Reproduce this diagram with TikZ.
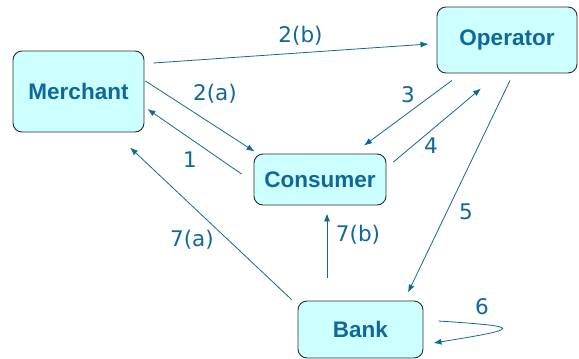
\documentclass[tikz,border=0pt]{standalone}
\usepackage{fontspec}
\newfontfamily\boxfont{Liberation Sans}
\newfontfamily\lblfont{DejaVu Sans}
\usepackage{tikz}
\usetikzlibrary{calc}
\usetikzlibrary{arrows.meta}

\definecolor{flowblue}{RGB}{16,104,152}
\definecolor{boxfill}{RGB}{204,255,255}
\definecolor{boxline}{RGB}{45,45,45}

\tikzset{
    party/.style={draw=boxline, fill=boxfill, line width=0.9pt, rounded corners=9pt,
        inner sep=0pt, text=flowblue, font=\boxfont\bfseries\fontsize{22.5}{26}\selectfont},
    flow/.style={draw=flowblue, line width=0.8pt, -{Latex[length=8pt,width=6pt]}},
    lbl/.style={text=flowblue, inner sep=0pt, font=\lblfont\fontsize{21.5}{25}\selectfont}
}

\begin{document}
\begin{tikzpicture}[x=1pt, y=-1pt]
        \useasboundingbox (0,0) rectangle (579,359);

        \node[party, minimum width=131pt, minimum height=81pt] (merchant) at (78.5,91.5) {Merchant};
        \node[party, minimum width=140pt, minimum height=66pt] (operator) at (507,40) {Operator};
        \node[party, minimum width=132pt, minimum height=51pt] (consumer) at (320,179.5) {Consumer};
        \node[party, minimum width=125pt, minimum height=57pt] (bank) at (360.5,329.5) {Bank};

        % flows
        \draw[flow] ($(merchant.east)+(9,-28.5)$) -- ($(operator.west)+(-8,4)$);
        \draw[flow] ($(merchant.east)+(1,-10.5)$) -- ($(consumer.north west)+(1,-2)$);
        \draw[flow] ($(consumer.west)+(-12,-5.5)$) -- ($(merchant.east)+(3,17.5)$);
        \draw[flow] ($(bank.north west)+(-6,-1)$) -- ($(merchant.south)+(51.5,15)$);
        \draw[flow] ($(bank.north)+(-33.5,-23)$) -- ($(consumer.south)+(7,8)$);
        \draw[flow] ($(operator.south)+(-55,7)$) -- ($(consumer.north)+(44,-8)$);
        \draw[flow] ($(consumer.east)+(7,-17.5)$) -- ($(operator.south)+(-26,15)$);
        \draw[flow] ($(operator.south)+(3,7)$) -- ($(bank.north)+(47.5,-8)$);
        \draw[flow] ($(bank.east)+(15,-8.5)$) .. controls ($(bank.east)+(100,-3)$) and ($(bank.east)+(100,-1)$) .. ($(bank.east)+(10,13.5)$);

        % labels
        \node[lbl] (lab2b) at (300.5,36) {2(b)};
        \node[lbl] (lab2a) at (215,94) {2(a)};
        \node[lbl] (lab1) at (190,160) {1};
        \node[lbl] (lab7a) at (192,240) {7(a)};
        \node[lbl] (lab7b) at (358,235) {7(b)};
        \node[lbl] (lab3) at (408,95) {3};
        \node[lbl] (lab4) at (431,146) {4};
        \node[lbl] (lab5) at (466,212) {5};
        \node[lbl] (lab6) at (482,307) {6};
    \end{tikzpicture}
\end{document}
